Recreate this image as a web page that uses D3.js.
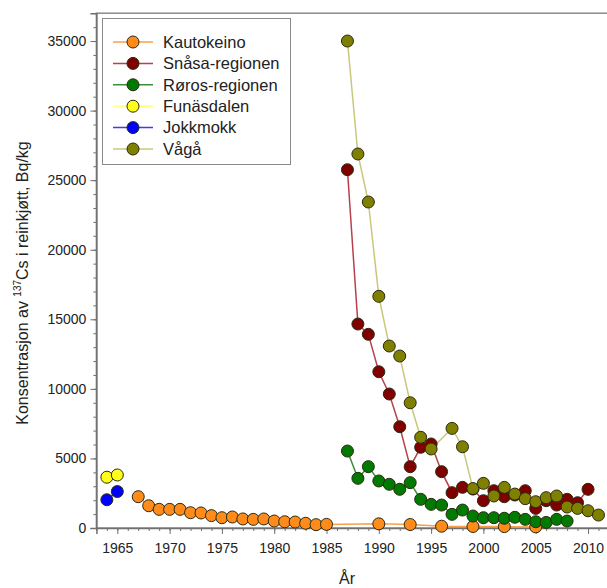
<!DOCTYPE html>
<html>
<head>
<meta charset="utf-8">
<script src="https://cdn.jsdelivr.net/npm/d3@7"></script>
<style>
  body { margin: 0; background: #fff; }
  svg { font-family: "Liberation Sans", Arial, sans-serif; }
</style>
</head>
<body>
<div id="holder"></div>
<script>
const w = 607;
const h = 588;

// DATA
const kautoYears = [1967, 1968, 1969, 1970, 1971, 1972, 1973, 1974, 1975, 1976, 1977, 1978, 1979, 1980, 1981, 1982, 1983, 1984, 1985, 1990, 1993, 1996, 1999, 2002, 2005];
const kautoValues = [2250, 1600, 1340, 1340, 1340, 1100, 1080, 890, 740, 790, 650, 620, 650, 500, 450, 430, 340, 240, 260, 300, 250, 130, 110, 100, 80];

const snasaYears = [1987, 1988, 1989, 1990, 1991, 1992, 1993, 1994, 1995, 1996, 1997, 1998, 1999, 2000, 2001, 2002, 2003, 2004, 2005, 2006, 2007, 2008, 2009, 2010];
const snasaValues = [25750, 14660, 13920, 11230, 9630, 7280, 4410, 5800, 6040, 4050, 2540, 2920, 2800, 1960, 2680, 2250, 2370, 2680, 1410, 1960, 1650, 2060, 1820, 2780];

const rorosYears = [1987, 1988, 1989, 1990, 1991, 1992, 1993, 1994, 1995, 1996, 1997, 1998, 1999, 2000, 2001, 2002, 2003, 2004, 2005, 2006, 2007, 2008];
const rorosValues = [5530, 3570, 4410, 3380, 3140, 2780, 3260, 2060, 1700, 1650, 980, 1290, 860, 740, 740, 700, 770, 620, 450, 400, 620, 500];

const funasYears = [1964, 1965];
const funasValues = [3650, 3810];

const jokkYears = [1964, 1965];
const jokkValues = [2030, 2620];

const vagaYears = [1987, 1988, 1989, 1990, 1991, 1992, 1993, 1994, 1995, 1997, 1998, 1999, 2000, 2001, 2002, 2003, 2004, 2005, 2006, 2007, 2008, 2009, 2010, 2011];
const vagaValues = [35000, 26880, 23430, 16650, 13080, 12360, 9000, 6520, 5680, 7160, 5840, 2830, 3210, 2300, 2920, 2440, 2110, 1890, 2180, 2300, 1510, 1410, 1240, 930];

const seriesNames = ["Kautokeino", "Snåsa-regionen", "Røros-regionen", "Funäsdalen", "Jokkmokk", "Vågå"];
const fillColors = ["#ff8c1a", "#800000", "#007a00", "#ffff1a", "#0000ff", "#808000"];
const lineColors = ["#f7a048", "#b8404c", "#3a8f3a", "#ffff80", "#3a3aff", "#c8c87c"];

const xTicks = [1965, 1970, 1975, 1980, 1985, 1990, 1995, 2000, 2005, 2010];
const yTicks = [0, 5000, 10000, 15000, 20000, 25000, 30000, 35000];

const series = [
    [kautoYears, kautoValues],
    [snasaYears, snasaValues],
    [rorosYears, rorosValues],
    [funasYears, funasValues],
    [jokkYears, jokkValues],
    [vagaYears, vagaValues]
].map((s, i) => ({
    name: seriesNames[i],
    fill: fillColors[i],
    line: lineColors[i],
    points: s[0].map((y, j) => ({ year: y, value: s[1][j] }))
}));

// SVG
const svg = d3.select("#holder")
    .append("svg")
    .attr("width", w)
    .attr("height", h);

const plotLeft = 96.4, plotRight = 619.4, plotTop = 13.2, plotBottom = 528;

const xScale = d3.scaleLinear().domain([1963, 2013]).range([plotLeft, plotRight]);
const yScale = d3.scaleLinear().domain([0, 37000]).range([plotBottom, plotTop]);

// FRAME
svg.append("rect")
    .attr("x", plotLeft)
    .attr("y", plotTop)
    .attr("width", plotRight - plotLeft)
    .attr("height", plotBottom - plotTop)
    .attr("fill", "none")
    .attr("stroke", "#8a8a8a")
    .attr("stroke-width", 1.5);

// AXES
const axisColor = "#707070";

// minor ticks
svg.append("g")
    .attr("transform", "translate(0," + plotBottom + ")")
    .call(d3.axisBottom(xScale).tickValues(d3.range(1963, 2013)).tickSize(3).tickFormat(""))
    .call(g => g.select(".domain").remove())
    .call(g => g.selectAll("line").attr("stroke", axisColor));

svg.append("g")
    .attr("transform", "translate(" + plotLeft + ",0)")
    .call(d3.axisLeft(yScale).tickValues(d3.range(0, 37001, 1000)).tickSize(3).tickFormat(""))
    .call(g => g.select(".domain").remove())
    .call(g => g.selectAll("line").attr("stroke", axisColor));

// major ticks
svg.append("g")
    .attr("transform", "translate(0," + plotBottom + ")")
    .call(d3.axisBottom(xScale).tickValues(xTicks).tickSize(6).tickPadding(9).tickFormat(d3.format("d")))
    .call(g => g.select(".domain").attr("stroke", axisColor).attr("stroke-width", 1.5))
    .call(g => g.selectAll("line").attr("stroke", axisColor))
    .call(g => g.selectAll("text").attr("fill", "#222").style("font-size", "14px"));

svg.append("g")
    .attr("transform", "translate(" + plotLeft + ",0)")
    .call(d3.axisLeft(yScale).tickValues(yTicks).tickSize(6).tickPadding(4).tickFormat(d3.format("d")))
    .call(g => g.select(".domain").attr("stroke", axisColor).attr("stroke-width", 1.5))
    .call(g => g.selectAll("line").attr("stroke", axisColor))
    .call(g => g.selectAll("text").attr("fill", "#222").style("font-size", "14px"));

// AXIS TITLES
svg.append("text")
    .attr("x", 347)
    .attr("y", 584)
    .attr("text-anchor", "middle")
    .attr("fill", "#222")
    .style("font-size", "16px")
    .text("År");

const yTitle = svg.append("text")
    .attr("transform", "translate(28,283) rotate(-90)")
    .attr("text-anchor", "middle")
    .attr("fill", "#222")
    .style("font-size", "16px");
yTitle.append("tspan").text("Konsentrasjon av ");
yTitle.append("tspan").attr("dy", -7).style("font-size", "10px").text("137");
yTitle.append("tspan").attr("dy", 7).text("Cs i reinkjøtt, Bq/kg");

// LINES AND DOTS
const line = d3.line()
    .x(d => xScale(d.year))
    .y(d => yScale(d.value));

series.forEach(s => {
    svg.append("path")
        .datum(s.points)
        .attr("fill", "none")
        .attr("stroke", s.line)
        .attr("stroke-width", 1.5)
        .attr("d", line);
});

series.forEach(s => {
    svg.selectAll(null)
        .data(s.points)
        .enter()
        .append("circle")
        .attr("cx", d => xScale(d.year))
        .attr("cy", d => yScale(d.value))
        .attr("r", 6)
        .attr("fill", s.fill)
        .attr("stroke", "#2a2a10")
        .attr("stroke-width", 1);
});

// LEGEND
const legend = svg.append("g");
legend.append("rect")
    .attr("x", 102.5)
    .attr("y", 18.5)
    .attr("width", 188)
    .attr("height", 146)
    .attr("fill", "#fff")
    .attr("stroke", "#8a8a8a")
    .attr("stroke-width", 1);

series.forEach((s, i) => {
    const ly = 42 + i * 21.4;
    legend.append("line")
        .attr("x1", 113).attr("x2", 153)
        .attr("y1", ly).attr("y2", ly)
        .attr("stroke", s.line)
        .attr("stroke-width", 1.5);
    legend.append("circle")
        .attr("cx", 133).attr("cy", ly)
        .attr("r", 6)
        .attr("fill", s.fill)
        .attr("stroke", "#2a2a10");
    legend.append("text")
        .attr("x", 163).attr("y", ly)
        .attr("dy", "0.35em")
        .attr("fill", "#222")
        .style("font-size", "16.5px")
        .text(s.name);
});
</script>
</body>
</html>
